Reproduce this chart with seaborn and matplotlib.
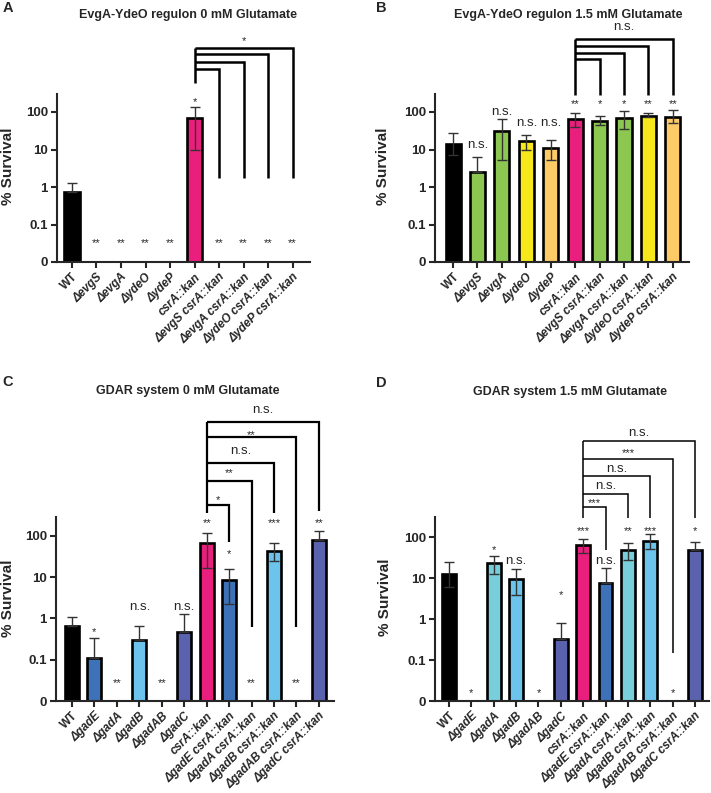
import numpy as np
import pandas as pd
import matplotlib.pyplot as plt
import seaborn as sns
from matplotlib.ticker import NullLocator

sns.set_style('ticks')
plt.rcParams['font.family'] = ['Liberation Sans', 'DejaVu Sans']

BLACK = '#000000'
GREEN = '#8cc751'
YELLOW = '#f7e81c'
ORANGE = '#fdca68'
PINK = '#ea1e7d'
BLUE = '#3d72b8'
TEAL = '#78cfdb'
SKY = '#6cc4ec'
PURPLE = '#5b62ad'

# ---- EvgA-YdeO regulon (A, B) ----
evg_strains = ['WT', 'ΔevgS', 'ΔevgA', 'ΔydeO', 'ΔydeP', 'csrA::kan',
               'ΔevgS csrA::kan', 'ΔevgA csrA::kan', 'ΔydeO csrA::kan', 'ΔydeP csrA::kan']
evg_colors = [BLACK, GREEN, GREEN, YELLOW, ORANGE, PINK, GREEN, GREEN, YELLOW, ORANGE]

a_survival = [0.74, 0, 0, 0, 0, 69, 0, 0, 0, 0]
a_low = [0.74, 0, 0, 0, 0, 9.8, 0, 0, 0, 0]
a_high = [1.26, 0, 0, 0, 0, 135, 0, 0, 0, 0]
a_sig = ['', '**', '**', '**', '**', '*', '**', '**', '**', '**']

b_survival = [14, 2.5, 31, 17, 11, 65, 58, 69, 78, 74]
b_low = [7, 2.5, 5.3, 10, 5.2, 40, 45, 35, 74, 50]
b_high = [27.6, 6.3, 65, 24.5, 18, 93, 78, 107, 93, 112]
b_sig = ['', 'n.s.', 'n.s.', 'n.s.', 'n.s.', '**', '*', '*', '**', '**']

# ---- GDAR system (C, D) ----
gad_strains = ['WT', 'ΔgadE', 'ΔgadA', 'ΔgadB', 'ΔgadAB', 'ΔgadC', 'csrA::kan',
               'ΔgadE csrA::kan', 'ΔgadA csrA::kan', 'ΔgadB csrA::kan',
               'ΔgadAB csrA::kan', 'ΔgadC csrA::kan']
gad_colors = [BLACK, BLUE, TEAL, SKY, SKY, PURPLE, PINK, BLUE, TEAL, SKY, SKY, PURPLE]

c_survival = [0.67, 0.112, 0, 0.30, 0, 0.48, 68, 8.5, 0, 43, 0, 80]
c_low = [0.67, 0.112, 0, 0.30, 0, 0.48, 16.6, 2.3, 0, 24.6, 0, 80]
c_high = [1.1, 0.33, 0, 0.64, 0, 1.3, 118, 16, 0, 68, 0, 132]
c_sig = ['', '*', '**', 'n.s.', '**', 'n.s.', '**', '*', '**', '***', '**', '**']

d_survival = [12.5, 0, 23, 9.5, 0, 0.32, 63, 7.6, 48, 80, 0, 48]
d_low = [6, 0, 12.6, 3.9, 0, 0.32, 40, 7.6, 27, 50, 0, 48]
d_high = [24.5, 0, 35, 16.6, 0, 0.8, 89, 17.5, 71, 118, 0, 75]
d_sig = ['', '*', '*', 'n.s.', '*', '*', '***', 'n.s.', '**', '***', '*', '*']

# comparisons against csrA::kan (target, label)
a_comp_targets = [6, 7, 8, 9]
a_comp_labels = ['', '', '', '*']
b_comp_targets = [6, 7, 8, 9]
b_comp_labels = ['', '', '', 'n.s.']
c_comp_targets = [7, 8, 9, 10, 11]
c_comp_labels = ['*', '**', 'n.s.', '**', 'n.s.']
d_comp_targets = [7, 8, 9, 10, 11]
d_comp_labels = ['***', 'n.s.', 'n.s.', '***', 'n.s.']

# layout: heights in "decades" on the axis (-2..-1 is the linear 0..0.1 part)
a_sig_lv = [None, -1.39, -1.39, -1.39, -1.39, 2.35, -1.39, -1.39, -1.39, -1.39]
b_sig_lv = [None, 1.12, 2.0, 1.71, 1.71, 2.32, 2.32, 2.32, 2.32, 2.32]
c_sig_lv = [None, -0.24, -1.49, 0.27, -1.49, 0.27, 2.39, 1.66, -1.49, 2.39, -1.49, 2.39]
d_sig_lv = [None, -1.71, 1.76, 1.41, -1.71, 0.68, 2.24, 1.41, 2.24, 2.24, -1.71, 2.24]

a_br = dict(src_bottom=2.77, levels=[3.15, 3.33, 3.55, 3.71], bottoms=[0.24] * 4,
            label_lv=[0, 0, 0, 4.0], lw=1.8)
b_br = dict(src_bottom=2.45, levels=[3.41, 3.57, 3.76, 3.95], bottoms=[2.45] * 4,
            label_lv=[0, 0, 0, 4.27], lw=1.8)
c_br = dict(src_bottom=2.56, levels=[2.76, 3.34, 3.78, 4.39, 4.76],
            bottoms=[1.85, -0.2, 2.56, -0.2, 2.61],
            label_lv=[2.95, 3.61, 4.07, 4.54, 5.05], lw=1.6)
d_br = dict(src_bottom=2.46, levels=[2.73, 3.05, 3.49, 3.9, 4.34],
            bottoms=[1.68, 2.46, 2.46, -0.83, 2.46],
            label_lv=[2.93, 3.24, 3.66, 4.15, 4.54], lw=1.1)

W, H = 711, 793


def lvl(d):
    return 10 ** d if d >= -1 else (d + 2) * 0.1


def put_label(ax, x, d, text):
    if not text:
        return
    if '*' in text:
        ax.annotate(text, (x, lvl(d)), xytext=(0, -2.6), textcoords='offset points',
                    ha='center', va='center', fontsize=8, annotation_clip=False)
    else:
        ax.annotate(text, (x, lvl(d)), xytext=(0, 0), textcoords='offset points',
                    ha='center', va='center', fontsize=9.5, annotation_clip=False)


def draw_panel(fig, box, strains, colors, surv, low, high, sig, sig_lv,
               src, targets, comp_labels, br, xlim, top):
    left, right, ytop, ybot = box
    ax = fig.add_axes([left / W, 1 - ybot / H, (right - left) / W, (ybot - ytop) / H])
    df = pd.DataFrame({'strain': strains, 'survival': surv})
    sns.barplot(data=df, x='strain', y='survival', hue='strain',
                palette=dict(zip(strains, colors)), legend=False, saturation=1,
                edgecolor='black', linewidth=1.9, width=0.62, errorbar=None, ax=ax)
    ax.set_yscale('symlog', linthresh=0.1, linscale=0.9)

    x = np.arange(len(strains))
    s = np.array(surv, dtype=float)
    lo = np.array(low, dtype=float)
    hi = np.array(high, dtype=float)
    m = s > 0
    ax.errorbar(x[m], s[m], yerr=[s[m] - lo[m], hi[m] - s[m]], fmt='none',
                ecolor='#333333', elinewidth=1.0, capsize=3.5, capthick=1.0, zorder=4)

    ax.set_ylim(0, lvl(top))
    ax.set_xlim(*xlim)
    ax.set_yticks([0, 0.1, 1, 10, 100])
    ax.set_yticklabels(['0', '0.1', '1', '10', '100'], fontweight='bold', fontsize=9.5)
    ax.yaxis.set_minor_locator(NullLocator())
    ax.set_xticks(x)
    ax.set_xticklabels(strains, rotation=45, ha='right', rotation_mode='anchor',
                       fontweight='bold', fontsize=8.5)
    for t in ax.get_xticklabels():
        if t.get_text() != 'WT':
            t.set_fontstyle('italic')
    ax.set_xlabel('')
    ax.set_ylabel('')
    sns.despine(ax=ax)
    for sp in ['left', 'bottom']:
        ax.spines[sp].set_linewidth(1.5)
    ax.tick_params(width=1.5, length=4.5, pad=2)

    for i, (txt, d) in enumerate(zip(sig, sig_lv)):
        if d is not None:
            put_label(ax, i, d, txt)

    # brackets
    kw = dict(color='black', lw=br['lw'], clip_on=False, solid_joinstyle='miter',
              solid_capstyle='butt', zorder=5)
    ax.plot([src, src], [lvl(br['src_bottom']), lvl(max(br['levels']))], **kw)
    for t, lv, bt, lab, llv in zip(targets, br['levels'], br['bottoms'],
                                   comp_labels, br['label_lv']):
        ax.plot([src, t, t], [lvl(lv), lvl(lv), lvl(bt)], **kw)
        put_label(ax, (src + t) / 2, llv, lab)
    return ax


fig = plt.figure(figsize=(W / 100, H / 100), dpi=100)

draw_panel(fig, (57, 310, 94, 262), evg_strains, evg_colors, a_survival, a_low, a_high,
           a_sig, a_sig_lv, 5, a_comp_targets, a_comp_labels, a_br, (-0.61, 9.71), 2.48)
draw_panel(fig, (435, 689, 94, 262), evg_strains, evg_colors, b_survival, b_low, b_high,
           b_sig, b_sig_lv, 5, b_comp_targets, b_comp_labels, b_br, (-0.74, 9.66), 2.48)
draw_panel(fig, (56, 334, 517, 701), gad_strains, gad_colors, c_survival, c_low, c_high,
           c_sig, c_sig_lv, 6, c_comp_targets, c_comp_labels, c_br, (-0.71, 11.67), 2.46)
draw_panel(fig, (435, 709, 517, 701), gad_strains, gad_colors, d_survival, d_low, d_high,
           d_sig, d_sig_lv, 6, d_comp_targets, d_comp_labels, d_br, (-0.63, 11.63), 2.49)

titles = ['EvgA-YdeO regulon 0 mM Glutamate', 'EvgA-YdeO regulon 1.5 mM Glutamate',
          'GDAR system 0 mM Glutamate', 'GDAR system 1.5 mM Glutamate']
title_pos = [(188, 15), (568, 15), (188, 391), (570, 392)]
letters = ['A', 'B', 'C', 'D']
letter_pos = [(8, 8), (381, 8), (8, 382), (381, 383)]
ylabel_pos = [(8, 166), (383, 166), (8, 598), (385, 597)]

for t, (px, py) in zip(titles, title_pos):
    fig.text(px / W, 1 - py / H, t, ha='center', va='center', fontsize=9, fontweight='bold')
for t, (px, py) in zip(letters, letter_pos):
    fig.text(px / W, 1 - py / H, t, ha='center', va='center', fontsize=10.5, fontweight='bold')
for px, py in ylabel_pos:
    fig.text(px / W, 1 - py / H, '% Survival', ha='center', va='center', rotation=90,
             fontsize=11, fontweight='bold')

fig.savefig('out.png', dpi=100)
